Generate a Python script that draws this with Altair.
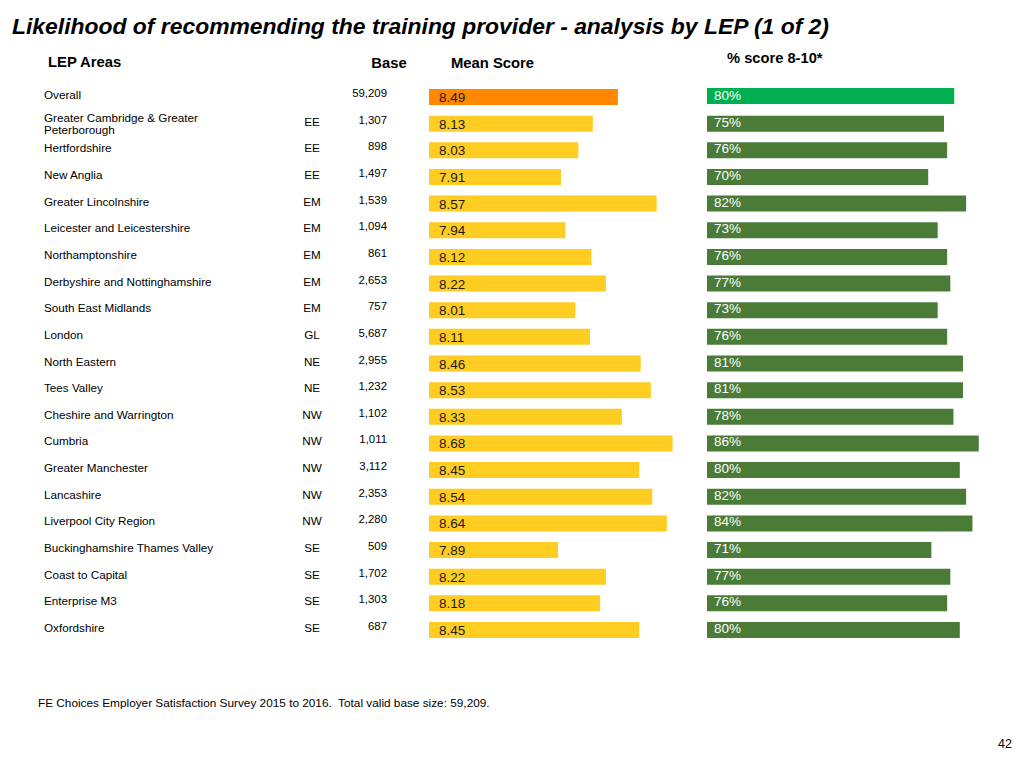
import altair as alt
import pandas as pd

areas = [
    "Overall", "Greater Cambridge & Greater\nPeterborough", "Hertfordshire", "New Anglia",
    "Greater Lincolnshire", "Leicester and Leicestershire", "Northamptonshire",
    "Derbyshire and Nottinghamshire", "South East Midlands", "London", "North Eastern",
    "Tees Valley", "Cheshire and Warrington", "Cumbria", "Greater Manchester",
    "Lancashire", "Liverpool City Region", "Buckinghamshire Thames Valley",
    "Coast to Capital", "Enterprise M3", "Oxfordshire",
]
regions = ["", "EE", "EE", "EE", "EM", "EM", "EM", "EM", "EM", "GL", "NE", "NE",
           "NW", "NW", "NW", "NW", "NW", "SE", "SE", "SE", "SE"]
bases = ["59,209", "1,307", "898", "1,497", "1,539", "1,094", "861", "2,653", "757",
         "5,687", "2,955", "1,232", "1,102", "1,011", "3,112", "2,353", "2,280",
         "509", "1,702", "1,303", "687"]
mean_scores = [8.49, 8.13, 8.03, 7.91, 8.57, 7.94, 8.12, 8.22, 8.01, 8.11, 8.46,
               8.53, 8.33, 8.68, 8.45, 8.54, 8.64, 7.89, 8.22, 8.18, 8.45]
pct_8_10 = [80, 75, 76, 70, 82, 73, 76, 77, 73, 76, 81, 81, 78, 86, 80, 82, 84,
            71, 77, 76, 80]

title = "Likelihood of recommending the training provider - analysis by LEP (1 of 2)"
footer = "FE Choices Employer Satisfaction Survey 2015 to 2016.\u00a0 Total valid base size: 59,209."
page_no = "42"

FONT = "Liberation Sans"

df = pd.DataFrame({
    "row": list(range(len(areas))),
    "area": areas,
    "region": regions,
    "base": bases,
    "mean": mean_scores,
    "pct": pct_8_10,
})
df["mean_label"] = [f"{v:.2f}" for v in mean_scores]
df["pct_label"] = [f"{v}%" for v in pct_8_10]

yscale = alt.Scale(domain=[0, 20], range=[89, 622], padding=0, nice=False, zero=False)
Y = alt.Y("row:Q", scale=yscale, axis=None)

base = alt.Chart(df)
rest = base.transform_filter("datum.row > 0")
overall = base.transform_filter("datum.row == 0")

mean_rest = rest.mark_bar(orient="horizontal", size=16, color="#FFCC22").encode(
    x=alt.X("mean:Q", scale=alt.Scale(domain=[7, 9], range=[421, 711], padding=0), axis=None),
    x2=alt.datum(7), y=Y)
mean_over = overall.mark_bar(orient="horizontal", size=16, color="#FF8800").encode(
    x=alt.X("mean:Q", scale=alt.Scale(domain=[7, 9], range=[421, 674.6], padding=0), axis=None),
    x2=alt.datum(7), y=Y)
pct_rest = rest.mark_bar(orient="horizontal", size=16, color="#4A7C38").encode(
    x=alt.X("pct:Q", scale=alt.Scale(domain=[0, 100], range=[699, 1015], padding=0), axis=None),
    x2=alt.datum(0), y=Y)
pct_over = overall.mark_bar(orient="horizontal", size=16, color="#00B050", yOffset=-1).encode(
    x=alt.X("pct:Q", scale=alt.Scale(domain=[0, 100], range=[699, 1008], padding=0), axis=None),
    x2=alt.datum(0), y=Y)

single = base.transform_filter("indexof(datum.area, '\\n') < 0")
multi = base.transform_filter("indexof(datum.area, '\\n') >= 0")

lbl_area = single.mark_text(align="left", baseline="middle", font=FONT, fontSize=11.7,
                            color="#000000", dy=-2).encode(
    x=alt.value(36), y=Y, text="area:N")
lbl_area2 = multi.mark_text(align="left", baseline="middle", font=FONT, fontSize=11.7,
                            color="#000000", dy=-6, lineBreak="\n", lineHeight=12).encode(
    x=alt.value(36), y=Y, text="area:N")
lbl_region = base.mark_text(align="center", baseline="middle", font=FONT, fontSize=11.7,
                            color="#000000", dy=-2).encode(
    x=alt.value(304), y=Y, text="region:N")
lbl_base = base.mark_text(align="right", baseline="middle", font=FONT, fontSize=11.4,
                          color="#000000", dy=-3).encode(
    x=alt.value(379), y=Y, text="base:N")
lbl_mean = base.mark_text(align="left", baseline="middle", font=FONT, fontSize=13.5,
                          color="#1a1a1a", dy=1).encode(
    x=alt.value(431), y=Y, text="mean_label:N")
lbl_pct = base.mark_text(align="left", baseline="middle", font=FONT, fontSize=13.5,
                         color="#FFFFFF", dy=-1).encode(
    x=alt.value(706), y=Y, text="pct_label:N")


def static(text, x, y, **kw):
    return alt.Chart(pd.DataFrame({"t": [text]})).mark_text(
        baseline="middle", font=FONT, **kw).encode(
        x=alt.value(x), y=alt.value(y), text="t:N")


texts = [
    static(title, 4, 19, align="left", fontSize=22.9, fontWeight="bold",
           fontStyle="italic", color="#000000"),
    static("LEP Areas", 40, 55, align="left", fontSize=14.8, fontWeight="bold"),
    static("Base", 381, 56, align="center", fontSize=14.8, fontWeight="bold"),
    static("Mean Score", 443, 56, align="left", fontSize=14.8, fontWeight="bold"),
    static("% score 8-10*", 719, 51, align="left", fontSize=14.7, fontWeight="bold"),
    static(footer, 30, 695, align="left", fontSize=11.8),
    static(page_no, 1004, 736, align="right", fontSize=12.5),
]

chart = alt.layer(
    mean_rest, mean_over, pct_rest, pct_over,
    lbl_area, lbl_area2, lbl_region, lbl_base, lbl_mean, lbl_pct, *texts
).resolve_scale(x="independent").properties(
    width=1008, height=752, autosize=alt.AutoSizeParams(type="none"), padding=0,
    background="#FFFFFF",
).configure_view(stroke=None)

chart.save("out.html", embed_options={"renderer": "svg", "actions": False})
